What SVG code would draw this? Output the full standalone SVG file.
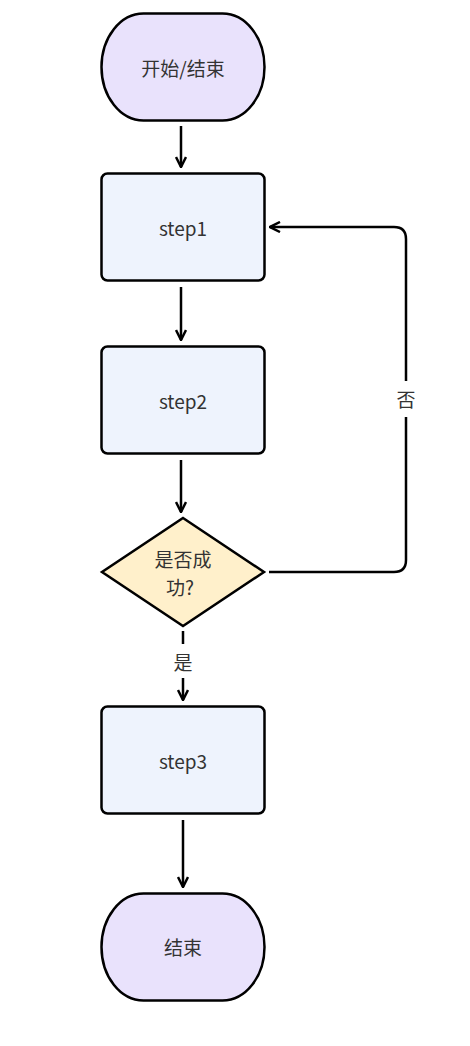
<svg xmlns="http://www.w3.org/2000/svg" width="470" height="1046" viewBox="0 0 470 1046">
<style>
.t{font-family:"Noto Sans CJK SC","Noto Sans",sans-serif;font-size:19px;fill:#333;text-anchor:middle;dominant-baseline:central}
.term{fill:#E9E2FC;stroke:#000;stroke-width:2.5}
.proc{fill:#EEF3FD;stroke:#000;stroke-width:2.5}
.dec{fill:#FFF0CB;stroke:#000;stroke-width:2.5}
.c{fill:none;stroke:#000;stroke-width:2.5;marker-end:url(#ah)}
.lb{fill:#fff}
</style>
<defs>
<marker id="ah" viewBox="0 0 12 12" refX="11" refY="6" markerWidth="12" markerHeight="12" markerUnits="userSpaceOnUse" orient="auto">
<path d="M1,1 L11,6 L1,11" fill="none" stroke="#000" stroke-width="2.5"/>
</marker>
</defs>
<g id="start"><rect class="term" x="101.5" y="13.5" width="163" height="107" rx="42" ry="53.5"/><text class="t" x="183" y="67">开始/结束</text></g>
<g id="step1"><rect class="proc" x="101.5" y="173.5" width="163" height="107" rx="6"/><text class="t" x="183" y="227">step1</text></g>
<g id="step2"><rect class="proc" x="101.5" y="346.5" width="163" height="107" rx="6"/><text class="t" x="183" y="400">step2</text></g>
<g id="decision"><polygon class="dec" points="183,518 264,572 183,626 102,572"/><text class="t" x="183" y="558">是否成</text><text class="t" x="180" y="586">功?</text></g>
<g id="step3"><rect class="proc" x="101.5" y="706.5" width="163" height="107" rx="6"/><text class="t" x="183" y="760">step3</text></g>
<g id="end"><rect class="term" x="101.5" y="893.5" width="163" height="107" rx="42" ry="53.5"/><text class="t" x="183" y="946">结束</text></g>
<g id="connectors">
<path class="c" d="M181,126 V167"/>
<path class="c" d="M181,287 V340"/>
<path class="c" d="M181,460 V512"/>
<path class="c" d="M183,631 V700"/>
<path class="c" d="M183,820 V887"/>
<path class="c" d="M269,572 H394 Q406,572 406,560 V239 Q406,227 394,227 H270"/>
<rect class="lb" x="170" y="644" width="26" height="34"/>
<text class="t" x="183" y="661">是</text>
<rect class="lb" x="394" y="381" width="26" height="36"/>
<text class="t" x="406" y="398">否</text>
</g>
</svg>
